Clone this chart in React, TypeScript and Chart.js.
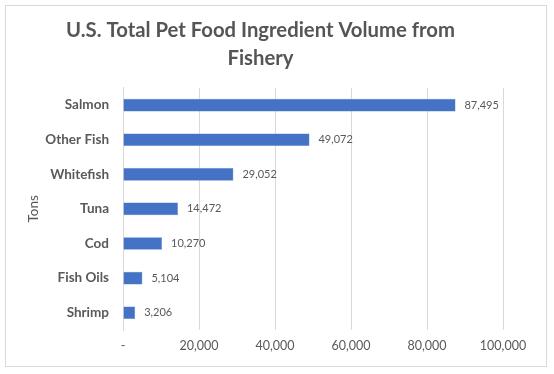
import React, { useEffect, useRef } from "react";
import { Chart, registerables } from "chart.js";

Chart.register(...registerables);

const categories = ["Salmon", "Other Fish", "Whitefish", "Tuna", "Cod", "Fish Oils", "Shrimp"];
const volumes = [87495, 49072, 29052, 14472, 10270, 5104, 3206];
const titleLines = ["U.S. Total Pet Food Ingredient Volume from", "Fishery"];
const axisTitle = "Tons";
const xMax = 100000;
const xStep = 20000;

const FONT = "Lato, 'Open Sans', sans-serif";
const GRAY = "#595959";

const framePlugin = {
  id: "frame",
  afterDraw(chart: any) {
    const ctx = chart.ctx;
    ctx.save();
    ctx.strokeStyle = "#d9d9d9";
    ctx.lineWidth = 1;
    ctx.strokeRect(5.5, 5.5, 541, 361);
    ctx.restore();
  },
};

const labelPlugin = {
  id: "barLabels",
  afterDatasetsDraw(chart: any) {
    const ctx = chart.ctx;
    const meta = chart.getDatasetMeta(0);
    const data = chart.data.datasets[0].data as number[];
    ctx.save();
    ctx.font = `11px ${FONT}`;
    ctx.fillStyle = GRAY;
    ctx.textAlign = "left";
    ctx.textBaseline = "middle";
    meta.data.forEach((bar: any, i: number) => {
      ctx.fillText(data[i].toLocaleString("en-US"), bar.x + 9, bar.y);
    });
    ctx.restore();
  },
};

export default function App() {
  const ref = useRef<HTMLCanvasElement | null>(null);
  useEffect(() => {
    document.body.style.margin = "0";
    const chart = new Chart(ref.current!, {
      type: "bar",
      data: {
        labels: categories,
        datasets: [
          {
            data: volumes,
            backgroundColor: "#4472C4",
            borderColor: "#5b84cc",
            borderWidth: 0.5,
            barPercentage: 0.73,
            categoryPercentage: 0.5,
          },
        ],
      },
      options: {
        indexAxis: "y",
        animation: false,
        responsive: false,
        layout: { padding: { left: 18, right: 51, top: 0, bottom: 8 } },
        plugins: {
          legend: { display: false },
          tooltip: { enabled: false },
          title: {
            display: true,
            text: titleLines,
            color: "#555555",
            font: { family: FONT, size: 20.3, weight: "bold", lineHeight: 1.4 },
            padding: { top: 16, bottom: 15 },
          },
        },
        scales: {
          x: {
            min: 0,
            max: xMax,
            ticks: {
              stepSize: xStep,
              color: GRAY,
              font: { family: FONT, size: 12.5 },
              padding: 8,
              callback: (v: any) => (Number(v) === 0 ? "-" : Number(v).toLocaleString("en-US")),
            },
            grid: { color: "#d9d9d9", drawTicks: false },
            border: { display: false },
            afterFit: (s: any) => {
              s.height = 36;
            },
          },
          y: {
            ticks: {
              color: GRAY,
              font: { family: FONT, size: 13.5, weight: "bold" },
              padding: 14,
            },
            grid: { display: false, drawTicks: false },
            border: { display: true, color: "#d9d9d9" },
            title: {
              display: true,
              text: axisTitle,
              color: GRAY,
              font: { family: FONT, size: 13.5 },
              padding: 8,
            },
            afterFit: (s: any) => {
              s.width = 123 - 18;
            },
          },
        },
      },
      plugins: [framePlugin, labelPlugin],
    });
    return () => chart.destroy();
  }, []);
  return <canvas ref={ref} width={554} height={374} style={{ display: "block" }} />;
}
